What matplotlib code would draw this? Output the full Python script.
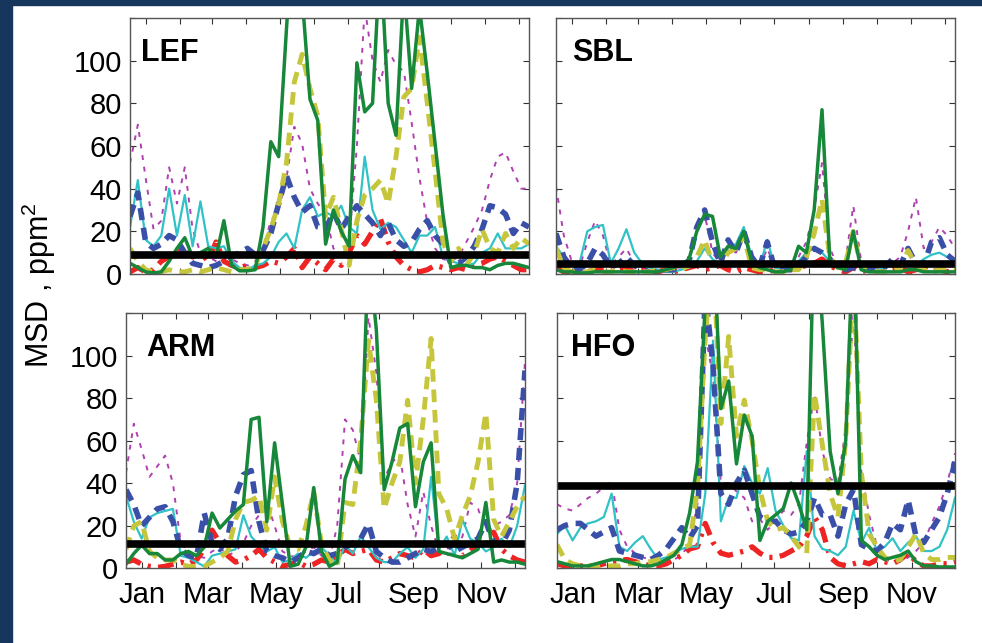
import numpy as np
import matplotlib
matplotlib.use("Agg")
import matplotlib.pyplot as plt
from matplotlib.patches import Rectangle

plt.rcParams['font.family'] = ['Liberation Sans', 'DejaVu Sans']
plt.rcParams['mathtext.fontset'] = 'custom'
plt.rcParams['mathtext.rm'] = 'Liberation Sans'
plt.rcParams['mathtext.default'] = 'regular'

# weekly MSD values, one list per site and model run
weeks = np.arange(52)
month_days = [15, 46, 74, 105, 135, 166, 196, 227, 258, 288, 319, 349]
month_labels = ['Jan', '', 'Mar', '', 'May', '', 'Jul', '', 'Sep', '', 'Nov', '']
sites = ['LEF', 'SBL', 'ARM', 'HFO']
thresholds = [8.8, 4.6, 11.6, 38.7]

lef_green = [5, 3, 1, 0.5, 1, 6, 12, 17, 8, 10, 12, 8, 25, 4, 1.5, 1.5, 2, 22, 62, 55, 115, 170, 130, 82, 72, 14, 30, 20, 13, 99, 76, 80, 150, 80, 65, 135, 87, 125, 94, 61, 28, 3, 4, 4, 3, 3, 2, 4, 5, 5, 4, 3]
lef_yellow = [12, 6, 2, 1, 1, 2, 1, 1, 2, 1, 2, 3, 2, 1, 2, 2, 4, 12, 21, 33, 52, 90, 103, 87, 74, 27, 36, 21, 4, 25, 37, 40, 44, 33, 55, 83, 87, 111, 80, 48, 15, 6, 12, 4, 10, 21, 12, 10, 19, 12, 17, 14]
lef_blue = [27, 38, 15, 12, 14, 18, 16, 10, 5, 4, 3, 4, 6, 8, 10, 12, 9, 11, 19, 33, 46, 36, 29, 32, 22, 21, 29, 21, 27, 32, 28, 24, 18, 24, 16, 13, 15, 21, 25, 18, 14, 5, 5, 8, 13, 21, 32, 31, 28, 19, 24, 22]
lef_cyan = [22, 44, 16, 13, 18, 40, 18, 37, 13, 34, 13, 12, 13, 6, 3, 2, 4, 5, 8, 15, 19, 12, 30, 36, 27, 29, 27, 32, 22, 19, 55, 30, 21, 24, 22, 16, 10, 18, 18, 22, 8, 6, 5, 4, 5, 10, 12, 19, 12, 12, 12, 14]
lef_magenta = [52, 70, 45, 21, 25, 50, 33, 50, 21, 10, 8, 6, 5, 7, 5, 4, 6, 12, 25, 30, 45, 69, 61, 40, 33, 28, 12, 8, 15, 60, 125, 100, 90, 105, 98, 95, 71, 45, 24, 12, 7, 6, 8, 15, 22, 30, 44, 55, 57, 48, 40, 40]
lef_red = [1, 3, 1, 2, 6, 8, 10, 12, 8, 10, 6, 15, 6, 4, 3, 4, 3, 4, 6, 5, 8, 12, 3, 8, 5, 2, 7, 4, 10, 18, 14, 20, 26, 15, 8, 4, 2, 1, 2, 4, 3, 2, 3, 2, 4, 5, 7, 8, 6, 4, 2, 2]

sbl_green = [2, 1, 1, 0.5, 0.5, 1, 1, 1, 1, 1, 1, 1, 1, 1, 2, 3, 4, 7, 20, 28, 27, 8, 13, 12, 20, 6, 3, 2, 1, 1, 2, 13, 10, 30, 77, 6, 3, 2, 20, 2, 1, 1, 1, 1, 1, 2, 2, 1, 1, 1, 1, 1]
sbl_yellow = [12, 3, 1, 1, 1, 2, 1, 1, 2, 1, 1, 1, 1, 2, 2, 3, 2, 4, 8, 16, 5, 4, 10, 12, 18, 3, 2, 2, 1, 1, 2, 2, 8, 19, 35, 8, 3, 5, 20, 3, 2, 1, 1, 2, 3, 11, 4, 2, 1, 2, 3, 2]
sbl_blue = [19, 8, 3, 2, 5, 12, 9, 3, 5, 8, 4, 2, 1, 1, 2, 2, 3, 6, 22, 30, 15, 5, 16, 10, 20, 8, 3, 15, 2, 2, 2, 4, 8, 12, 10, 7, 3, 2, 3, 2, 2, 2, 3, 7, 4, 12, 5, 4, 15, 17, 9, 6]
sbl_cyan = [13, 8, 4, 5, 20, 22, 23, 5, 12, 21, 10, 5, 3, 2, 1, 1, 2, 3, 6, 12, 7, 4, 13, 14, 22, 8, 3, 16, 3, 2, 4, 6, 10, 12, 10, 6, 3, 2, 6, 3, 2, 2, 3, 4, 3, 5, 4, 7, 9, 10, 8, 7]
sbl_magenta = [41, 18, 6, 3, 15, 25, 18, 4, 8, 12, 5, 3, 2, 2, 2, 3, 3, 6, 20, 28, 10, 5, 12, 10, 18, 6, 3, 12, 3, 2, 3, 8, 15, 30, 52, 12, 4, 6, 32, 6, 3, 2, 3, 5, 8, 20, 36, 12, 15, 22, 18, 12]
sbl_red = [3, 1, 1, 2, 1, 2, 3, 4, 2, 3, 1, 2, 1, 1, 2, 1, 2, 3, 4, 2, 3, 4, 2, 1, 3, 2, 1, 1, 2, 3, 2, 3, 4, 5, 7, 4, 2, 1, 3, 1, 2, 4, 1, 2, 3, 1, 2, 3, 1, 2, 1, 2]

arm_green = [2, 7, 11, 7, 7, 4, 4, 7, 8, 6, 10, 26, 19, 23, 27, 30, 70, 71, 22, 59, 30, 1, 2, 10, 38, 8, 1, 3, 42, 53, 45, 150, 112, 37, 50, 66, 68, 29, 50, 59, 8, 7, 6, 5, 7, 9, 31, 3, 4, 3, 3, 2]
arm_yellow = [9, 20, 22, 8, 5, 4, 4, 2, 1, 1, 1, 3, 5, 8, 23, 31, 32, 34, 18, 43, 22, 10, 9, 20, 36, 11, 4, 1, 31, 30, 60, 107, 79, 28, 40, 50, 79, 40, 70, 108, 35, 28, 14, 25, 34, 50, 73, 23, 15, 22, 29, 34]
arm_blue = [37, 30, 20, 24, 28, 29, 22, 9, 6, 5, 26, 12, 9, 14, 34, 44, 46, 22, 8, 6, 5, 3, 5, 8, 7, 9, 6, 7, 10, 12, 14, 21, 8, 5, 3, 3, 5, 7, 9, 8, 10, 12, 8, 10, 12, 14, 22, 12, 11, 18, 40, 93]
arm_cyan = [34, 22, 14, 24, 26, 27, 28, 6, 5, 3, 1, 6, 7, 8, 9, 25, 15, 11, 8, 10, 3, 4, 7, 5, 8, 10, 6, 2, 11, 7, 15, 10, 5, 3, 3, 7, 10, 5, 9, 43, 9, 15, 6, 23, 14, 12, 8, 10, 14, 10, 20, 39]
arm_magenta = [45, 68, 56, 43, 48, 53, 40, 12, 8, 6, 5, 8, 10, 6, 8, 12, 20, 25, 31, 20, 8, 6, 5, 8, 10, 6, 4, 20, 70, 65, 50, 118, 92, 42, 50, 53, 30, 15, 36, 20, 8, 6, 8, 15, 31, 28, 18, 20, 22, 25, 40, 97]
arm_red = [3, 4, 2, 1, 0.5, 1, 2, 3, 2, 4, 9, 18, 12, 6, 3, 4, 6, 9, 5, 3, 1, 2, 3, 1, 2, 4, 3, 6, 9, 7, 8, 9, 4, 3, 5, 7, 6, 5, 9, 6, 7, 10, 15, 6, 8, 12, 10, 17, 9, 6, 4, 3]

hfo_green = [3, 2, 1, 1, 1, 2, 3, 4, 4, 3, 2, 1, 1, 2, 4, 6, 11, 26, 50, 125, 160, 75, 88, 49, 72, 62, 13, 22, 25, 28, 40, 30, 18, 170, 115, 55, 35, 60, 160, 13, 10, 6, 4, 5, 6, 8, 3, 1, 1, 0.5, 0.5, 0.5]
hfo_yellow = [11, 4, 2, 1, 1, 1, 1, 1, 1, 2, 2, 3, 3, 4, 5, 7, 9, 11, 37, 109, 150, 68, 109, 62, 79, 60, 37, 22, 18, 19, 15, 10, 7, 82, 58, 35, 24, 60, 140, 45, 16, 10, 5, 3, 4, 10, 16, 7, 4, 4, 5, 5]
hfo_blue = [18, 20, 21, 21, 18, 15, 17, 19, 8, 7, 6, 5, 4, 6, 9, 14, 19, 14, 20, 130, 95, 35, 30, 40, 46, 35, 24, 22, 22, 18, 16, 17, 22, 33, 25, 25, 15, 30, 37, 11, 9, 8, 12, 21, 18, 32, 15, 12, 18, 24, 35, 50]
hfo_cyan = [16, 20, 13, 19, 21, 22, 24, 35, 10, 8, 12, 15, 9, 4, 5, 7, 9, 10, 10, 35, 107, 22, 33, 33, 48, 40, 35, 47, 27, 20, 14, 13, 55, 15, 9, 8, 6, 10, 27, 12, 19, 8, 10, 14, 8, 12, 15, 8, 8, 10, 18, 33]
hfo_magenta = [30, 28, 27, 30, 33, 35, 38, 41, 18, 10, 7, 5, 4, 3, 3, 4, 6, 12, 30, 110, 90, 40, 40, 36, 33, 22, 23, 18, 22, 27, 25, 30, 59, 82, 55, 42, 40, 66, 120, 45, 25, 10, 4, 3, 3, 5, 8, 12, 21, 29, 40, 54]
hfo_red = [2, 1, 0.5, 1, 1, 1, 2, 3, 3.6, 4, 3, 2, 1, 1, 2, 4, 6, 9, 10, 21, 12, 7, 6, 7, 8, 10, 7, 5, 5, 6, 8, 10, 15, 24, 18, 5, 2, 1, 2, 3, 2, 4, 3, 2, 4, 7, 3, 1, 1, 2, 2, 3]

series = {
    'LEF': [lef_magenta, lef_red, lef_cyan, lef_blue, lef_yellow, lef_green],
    'SBL': [sbl_magenta, sbl_red, sbl_cyan, sbl_blue, sbl_yellow, sbl_green],
    'ARM': [arm_magenta, arm_red, arm_cyan, arm_blue, arm_yellow, arm_green],
    'HFO': [hfo_magenta, hfo_red, hfo_cyan, hfo_blue, hfo_yellow, hfo_green],
}

# drawing order matches the series lists above
styles = [
    dict(color='#b040b0', lw=1.4, ls=(0, (2.5, 3.5))),
    dict(color='#ee2424', lw=3.8, ls=(0, (3, 1.4, 0.6, 1.4))),
    dict(color='#30c2c6', lw=1.6, ls='-'),
    dict(color='#3a50a8', lw=4.0, ls=(0, (2.2, 1.4))),
    dict(color='#c6c63c', lw=3.5, ls=(0, (2.6, 1.6))),
    dict(color='#17873a', lw=2.5, ls='-'),
]

# panel boxes in figure fractions: left, bottom, width, height
boxes = [
    [0.1324, 0.5739, 0.4063, 0.3981],
    [0.5662, 0.5739, 0.4063, 0.3981],
    [0.1283, 0.1159, 0.4063, 0.3974],
    [0.5672, 0.1166, 0.4053, 0.3966],
]
title_x = [0.028, 0.040, 0.050, 0.036]

fig = plt.figure(figsize=(9.82, 6.43), dpi=100)
fig.patches.append(Rectangle((0, 0), 12 / 982, 1, transform=fig.transFigure,
                             color='#17365d', zorder=0))
fig.patches.append(Rectangle((0, 1 - 5 / 643), 1, 5 / 643, transform=fig.transFigure,
                             color='#17365d', zorder=0))

month_ticks = [(d - 1) / 7 for d in month_days]

for i, site in enumerate(sites):
    ax = fig.add_axes(boxes[i])
    for vals, st in zip(series[site], styles):
        ax.plot(weeks, vals, color=st['color'], lw=st['lw'], linestyle=st['ls'])
    ax.axhline(thresholds[i], color='black', lw=5.5)
    ax.set_xlim(0, 51)
    ax.set_ylim(0, 120)
    ax.set_xticks(month_ticks)
    ax.set_yticks([0, 20, 40, 60, 80, 100, 120])
    if i >= 2:
        ax.set_xticklabels(month_labels)
    else:
        ax.set_xticklabels([])
    if i % 2 == 0:
        ax.set_yticklabels(['0', '20', '40', '60', '80', '100', ''])
    else:
        ax.set_yticklabels([])
    ax.tick_params(direction='in', top=True, right=True, length=4, width=0.8,
                   color='#333333', labelsize=21, pad=6)
    ax.tick_params(axis='x', pad=9)
    for sp in ax.spines.values():
        sp.set_color('#555555')
        sp.set_linewidth(1.0)
    ax.text(title_x[i], 0.832, site, transform=ax.transAxes, fontsize=22,
            fontweight='bold', va='baseline', ha='left')

fig.text(0.040, 0.557, 'MSD , ppm$^2$', rotation=90, ha='center', va='center',
         fontsize=22)

fig.savefig('out.png', dpi=100)
